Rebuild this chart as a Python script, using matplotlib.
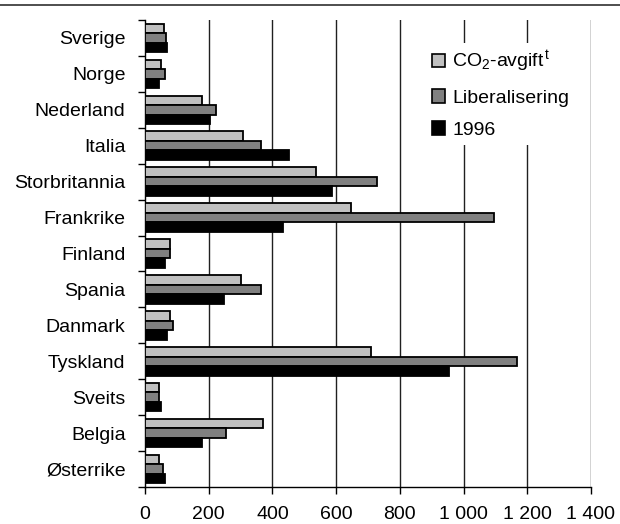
import matplotlib
matplotlib.use("Agg")
import matplotlib.pyplot as plt
import numpy as np
from matplotlib.lines import Line2D

plt.rcParams['font.family'] = ['Liberation Sans', 'DejaVu Sans']
plt.rcParams['mathtext.fontset'] = 'custom'
plt.rcParams['mathtext.rm'] = 'Liberation Sans'
plt.rcParams['mathtext.it'] = 'Liberation Sans'

countries = ["Sverige", "Norge", "Nederland", "Italia", "Storbritannia", "Frankrike",
             "Finland", "Spania", "Danmark", "Tyskland", "Sveits", "Belgia", "Østerrike"]
co2_avgift = [61, 49, 179, 308, 537, 647, 80, 302, 80, 710, 43, 371, 45]
liberalisering = [67, 63, 223, 365, 727, 1094, 80, 365, 87, 1167, 43, 254, 56]
y1996 = [70, 45, 204, 453, 588, 433, 63, 248, 70, 953, 51, 180, 63]
series_labels = ["CO$_2$-avgift$^{\\,t}$", "Liberalisering", "1996"]
xticks = [0, 200, 400, 600, 800, 1000, 1200, 1400]
xtick_labels = ["0", "200", "400", "600", "800", "1 000", "1 200", "1 400"]

colors = ["#c0c0c0", "#808080", "#000000"]

fig = plt.figure(figsize=(6.2, 5.24), dpi=100)
ax = fig.add_axes([145/620, 1-487/524, (591-145)/620, (487-20)/524])

n = len(countries)
pos = np.arange(n)
h = 0.265
for k, (vals, c, lab) in enumerate(zip([co2_avgift, liberalisering, y1996], colors, series_labels)):
    ax.barh(pos + (k-1)*h, vals, height=h, color=c, edgecolor='black', linewidth=1.3,
            label=lab, zorder=3)

ax.set_xlim(0, 1400)
ax.set_ylim(n-0.5, -0.5)
ax.set_xticks(xticks)
ax.set_xticklabels(xtick_labels, fontsize=14)
ax.set_yticks(np.arange(n+1)-0.5)
ax.set_yticklabels([])
ax.set_yticks(pos, minor=True)
ax.set_yticklabels(countries, minor=True, fontsize=14)
ax.tick_params(axis='y', which='minor', length=0, pad=14)
ax.tick_params(axis='y', which='major', length=5, width=1, direction='out')
ax.tick_params(axis='x', length=5, width=1, direction='out', pad=9)

for x in xticks[1:]:
    ax.axvline(x, color='#202020', linewidth=1, zorder=1)

for s in ['top', 'right']:
    ax.spines[s].set_visible(False)
ax.spines['left'].set_linewidth(1)
ax.spines['bottom'].set_linewidth(1)

leg = ax.legend(loc='upper left', bbox_to_anchor=(426/620, 1-43/524),
                bbox_transform=fig.transFigure, fontsize=14, frameon=True,
                handlelength=0.7, handleheight=0.7, handletextpad=0.35,
                labelspacing=0.75, borderpad=0.3, borderaxespad=0)
leg.get_frame().set_edgecolor('none')
leg.get_frame().set_facecolor('white')
leg.get_frame().set_alpha(1)
leg.set_zorder(5)
for p in leg.get_patches():
    p.set_linewidth(1.2)

fig.add_artist(Line2D([0, 1], [1-5/524, 1-5/524], transform=fig.transFigure,
                      color='#303030', linewidth=1.2))
fig.text(107/620, 1-3/524, "2", fontsize=11, ha='center', va='bottom')

fig.savefig("out.png", dpi=100)
